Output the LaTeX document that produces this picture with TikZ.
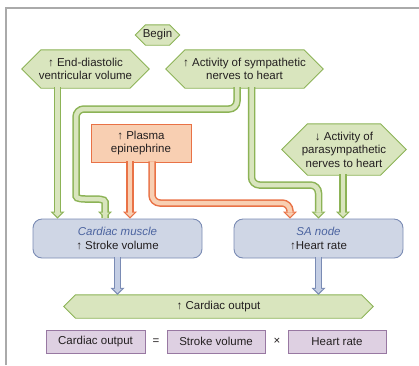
\documentclass[tikz,border=0pt]{standalone}
\usepackage{fontspec}
\setmainfont{Liberation Sans}
\usetikzlibrary{arrows.meta,calc,backgrounds}
\definecolor{greenfill}{RGB}{217,229,190}
\definecolor{greenline}{RGB}{140,179,86}
\definecolor{orangefill}{RGB}{248,207,178}
\definecolor{orangeline}{RGB}{233,114,70}
\definecolor{bluefill}{RGB}{207,214,229}
\definecolor{blueline}{RGB}{122,139,180}
\definecolor{bluepipe}{RGB}{196,206,228}
\definecolor{purplefill}{RGB}{222,208,226}
\definecolor{purpleline}{RGB}{152,120,162}
\definecolor{textdark}{RGB}{35,31,32}
\definecolor{labelblue}{RGB}{76,100,160}
\definecolor{framegray}{RGB}{170,170,170}
\begin{document}
\begin{tikzpicture}[x=1pt, y=-1pt,
    font=\fontsize{11.5}{13.5}\selectfont, text=textdark,
    hexnode/.style={inner sep=0pt, align=center},
    hexline/.style={draw=greenline, fill=greenfill, line width=0.9pt, line join=miter},
    plasmabox/.style={draw=orangeline, fill=orangefill, line width=0.9pt, inner sep=0pt, align=center},
    sitebox/.style={draw=blueline, fill=bluefill, line width=0.9pt, rounded corners=9pt,
        inner sep=0pt, align=center, minimum width=169pt, minimum height=39pt},
    termbox/.style={draw=purpleline, fill=purplefill, line width=0.9pt, inner sep=0pt,
        minimum width=98pt, minimum height=23pt},
    pipe/.style n args={2}{draw=#1, line width=7.5pt, rounded corners=8pt,
        -{Triangle[length=7pt, width=14pt, line width=0pt]},
        postaction={draw=#2, line width=4.5pt, shorten >=1.8pt,
            -{Triangle[length=4.2pt, width=9pt, line width=0pt]}}},
    greenpipe/.style={pipe={greenline}{greenfill}},
    orangepipe/.style={pipe={orangeline}{orangefill}},
    bluepipe/.style={pipe={blueline}{bluepipe}}]
    \useasboundingbox (0,0) rectangle (419,365);
    % frame
    \draw[framegray, line width=1.2pt] (6,365) -- (6,8) -- (419,8);
    % inputs
    \node[hexnode, minimum width=44pt, minimum height=20pt] (begin) at (157.5,35) {Begin};
    \node[hexnode, minimum width=127pt, minimum height=38pt] (edv) at (85.5,69)
        {↑ End-diastolic\\ventricular volume};
    \node[hexnode, minimum width=157pt, minimum height=38pt] (symp) at (244.5,69)
        {↑ Activity of sympathetic\\nerves to heart};
    \node[hexnode, minimum width=124pt, minimum height=51pt] (para) at (344,149.5)
        {↓ Activity of\\parasympathetic\\nerves to heart};
    \node[plasmabox, minimum width=100pt, minimum height=38pt] (plasma) at (141,143)
        {↑ Plasma\\epinephrine};
    % effectors
    \node[sitebox] (muscle) at (117.5,238.5) {{\itshape\color{labelblue}Cardiac muscle}\\↑ Stroke volume};
    \node[sitebox] (sa) at (318.5,238.5) {{\itshape\color{labelblue}SA node}\\↑Heart rate};
    % output
    \node[hexnode, minimum width=309pt, minimum height=23pt] (co) at (218.5,306.5) {↑ Cardiac output};
    \node[termbox, minimum width=99pt] (term1) at (95.5,341.5) {Cardiac output};
    \node (equals) at (156,341.5) {=};
    \node[termbox] (term2) at (216,341.5) {Stroke volume};
    \node (times) at (277,341.5) {×};
    \node[termbox] (term3) at (337,341.5) {Heart rate};
    \begin{pgfonlayer}{background}
        \foreach \hx in {begin,edv,symp,para,co}
            \draw[hexline] let \p1=($(\hx.north)-(\hx.south)$) in
                (\hx.west) -- ([xshift=0.5*\y1]\hx.north west) -- ([xshift=-0.5*\y1]\hx.north east)
                -- (\hx.east) -- ([xshift=-0.5*\y1]\hx.south east) -- ([xshift=0.5*\y1]\hx.south west) -- cycle;
    \end{pgfonlayer}
    % pipes
    \draw[greenpipe] ([xshift=-28pt,yshift=1pt]edv.south) -- ([xshift=-28pt]edv.south |- muscle.north);
    \draw[greenpipe] ([xshift=-7.5pt,yshift=1pt]symp.south) |- (76,109) -- (76,188)
        to[out=-90, in=90] (105,210) -- (105,0 |- muscle.north);
    \draw[greenpipe] ([xshift=7pt,yshift=1pt]symp.south) |- (sa.north |- 0,185) -- (sa.north);
    \draw[greenpipe] ([xshift=-1pt,yshift=1pt]para.south) -- ([xshift=-1pt]para.south |- sa.north);
    \draw[orangepipe] ([xshift=-11pt,yshift=1pt]plasma.south) -- ([xshift=-11pt]plasma.south |- muscle.north);
    \draw[orangepipe] ([xshift=11pt,yshift=1pt]plasma.south) |- (290,203) -- (290,0 |- sa.north);
    \draw[bluepipe] ([yshift=1pt]muscle.south) -- (muscle.south |- co.north);
    \draw[bluepipe] ([yshift=1pt]sa.south) -- (sa.south |- co.north);
\end{tikzpicture}
\end{document}
